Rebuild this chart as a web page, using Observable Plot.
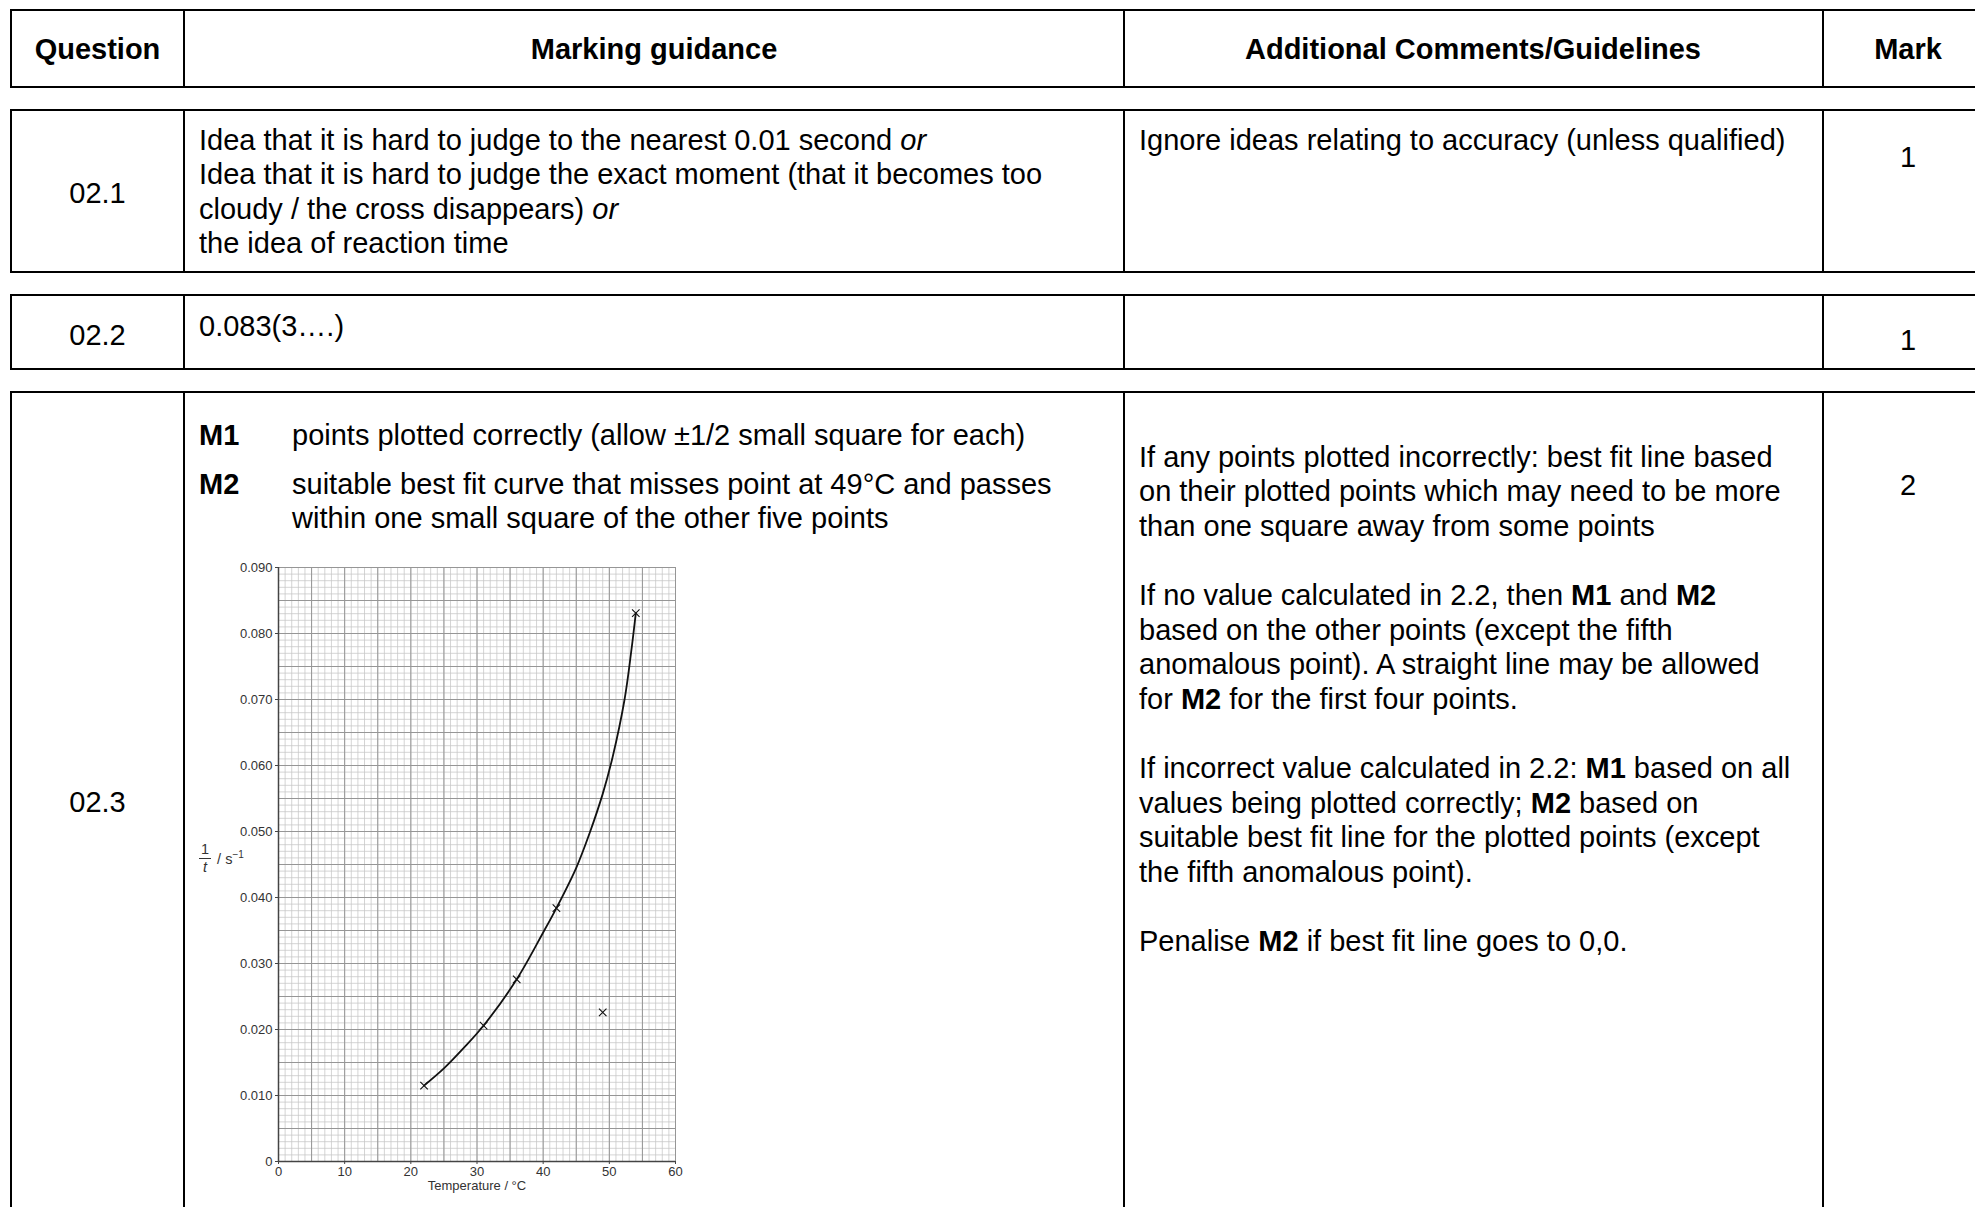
<!DOCTYPE html>
<html><head><meta charset="utf-8">
<script src="https://cdn.jsdelivr.net/npm/d3@7"></script>
<script src="https://cdn.jsdelivr.net/npm/@observablehq/plot@0.6"></script>
<style>
html,body{margin:0;padding:0;background:#fff;}
body{width:1975px;height:1207px;overflow:hidden;position:relative;font-family:"Liberation Sans",Arial,Helvetica,sans-serif;font-size:29px;color:#000;}
.box{position:absolute;left:9.8px;width:1990px;border:2.4px solid #000;box-sizing:border-box;}
.v{position:absolute;width:1.8px;background:#000;}
.t{position:absolute;line-height:34.6px;white-space:nowrap;}
.c{position:absolute;transform:translate(-50%,-50%);white-space:nowrap;line-height:1;}
.h{font-weight:bold;}
#chart{position:absolute;left:198px;top:557px;}
#ylab{position:absolute;left:199px;top:842px;font-size:14.5px;color:#333;display:flex;align-items:center;}
.frac{display:inline-flex;flex-direction:column;align-items:center;line-height:1;margin-right:6px;}
.frac span:first-child{border-bottom:1px solid #333;padding:0 2px 1px 2px;}
.frac span:last-child{font-style:italic;padding-top:1px;}
</style></head>
<body>
<div id="table"></div>
<div id="chart"></div>
<div id="ylab"><span class="frac"><span>1</span><span>t</span></span><span>/ s<sup style="font-size:10px">−1</sup></span></div>
<script>
// ---- data ----
const temperature = [22, 31, 36, 42, 49, 54];
const rate = [0.0115, 0.0206, 0.0276, 0.0384, 0.0226, 0.0831];
const curveTemperature = [22, 25, 28, 31, 36, 40, 42, 45, 47, 49, 50.5, 52.3, 53.3, 54];
const curveRate = [0.0115, 0.0141, 0.0172, 0.0206, 0.0276, 0.0347, 0.0384, 0.0445, 0.0497, 0.0557, 0.0613, 0.0700, 0.0772, 0.0831];
const xTicks = [0, 10, 20, 30, 40, 50, 60];
const xTickLabels = ["0", "10", "20", "30", "40", "50", "60"];
const yTicks = [0, 0.01, 0.02, 0.03, 0.04, 0.05, 0.06, 0.07, 0.08, 0.09];
const yTickLabels = ["0", "0.010", "0.020", "0.030", "0.040", "0.050", "0.060", "0.070", "0.080", "0.090"];
const xLabel = "Temperature / °C";

// ---- table ----
const boxes = [[10, 87], [110, 272], [295, 369], [392, 1260]];
const vlines = [184, 1124, 1823];
let html = "";
for (const [t, b] of boxes) {
  html += `<div class="box" style="top:${t - 1.2}px;height:${b - t + 2.4}px"></div>`;
  for (const x of vlines) html += `<div class="v" style="left:${x - 0.9}px;top:${t}px;height:${b - t}px"></div>`;
}
const c = (x, y, s, cls = "") => `<div class="c ${cls}" style="left:${x}px;top:${y}px">${s}</div>`;
const t = (x, y, s) => `<div class="t" style="left:${x}px;top:${y - 17.3}px">${s}</div>`;
html += c(97.5, 49, "Question", "h") + c(654, 49, "Marking guidance", "h") + c(1473, 49, "Additional Comments/Guidelines", "h") + c(1908, 49, "Mark", "h");
html += c(97.5, 193, "02.1") + c(1908, 157, "1");
html += t(199, 140, "Idea that it is hard to judge to the nearest 0.01 second <i>or</i><br>Idea that it is hard to judge the exact moment (that it becomes too<br>cloudy / the cross disappears) <i>or</i><br>the idea of reaction time");
html += t(1139, 140, "Ignore ideas relating to accuracy (unless qualified)");
html += c(97.5, 335, "02.2") + c(1908, 340, "1");
html += t(199, 326, "0.083(3….)");
html += c(97.5, 802, "02.3") + c(1908, 485, "2");
html += t(199, 435, "<b>M1</b>") + t(292, 435, "points plotted correctly (allow ±1/2 small square for each)");
html += t(199, 484, "<b>M2</b>") + t(292, 484, "suitable best fit curve that misses point at 49°C and passes<br>within one small square of the other five points");
html += t(1139, 457, "If any points plotted incorrectly: best fit line based<br>on their plotted points which may need to be more<br>than one square away from some points<br><br>" +
  "If no value calculated in 2.2, then <b>M1</b> and <b>M2</b><br>based on the other points (except the fifth<br>anomalous point). A straight line may be allowed<br>for <b>M2</b> for the first four points.<br><br>" +
  "If incorrect value calculated in 2.2: <b>M1</b> based on all<br>values being plotted correctly; <b>M2</b> based on<br>suitable best fit line for the plotted points (except<br>the fifth anomalous point).<br><br>" +
  "Penalise <b>M2</b> if best fit line goes to 0,0.");
document.getElementById("table").innerHTML = html;

// ---- graph ----
const points = temperature.map((x, i) => ({x, y: rate[i]}));
const curve = curveTemperature.map((x, i) => ({x, y: curveRate[i]}));
const xMinor = d3.range(0, 61, 1);
const xMajor = d3.range(0, 61, 5);
const yMinor = d3.range(0, 91).map(i => i / 1000);
const yMajor = d3.range(0, 19).map(i => i * 0.005);

const plot = Plot.plot({
  width: 487, height: 644,
  marginLeft: 80, marginRight: 10, marginTop: 10, marginBottom: 40,
  x: {domain: [0, 60]},
  y: {domain: [0, 0.09]},
  style: {fontFamily: "'Liberation Sans', Arial, sans-serif", fontSize: "13px", color: "#333", background: "white", overflow: "visible"},
  marks: [
    Plot.ruleX(xMinor, {stroke: "#c6c6c6", strokeWidth: 0.75}),
    Plot.ruleY(yMinor, {stroke: "#c6c6c6", strokeWidth: 0.75}),
    Plot.ruleX(xMajor, {stroke: "#969696", strokeWidth: 1}),
    Plot.ruleY(yMajor, {stroke: "#969696", strokeWidth: 1}),
    Plot.axisX({ticks: xTicks, tickSize: 3, tickPadding: 2, tickFormat: d => xTickLabels[xTicks.indexOf(d)], label: null, stroke: "#444"}),
    Plot.axisY({ticks: yTicks, tickSize: 3, tickPadding: 3, tickFormat: d => yTickLabels[yTicks.indexOf(d)], label: null, stroke: "#444"}),
    Plot.ruleX([0], {stroke: "#444", strokeWidth: 1.5}),
    Plot.ruleY([0], {stroke: "#444", strokeWidth: 1.5}),
    Plot.line(curve, {x: "x", y: "y", curve: "catmull-rom", stroke: "#111", strokeWidth: 1.8}),
    Plot.dot(points, {x: "x", y: "y", symbol: "times", r: 3.5, stroke: "#111", strokeWidth: 1.1}),
    Plot.text([xLabel], {frameAnchor: "bottom", dy: 28, fontSize: 13, fill: "#333"})
  ]
});
document.getElementById("chart").appendChild(plot);
</script>
</body></html>
